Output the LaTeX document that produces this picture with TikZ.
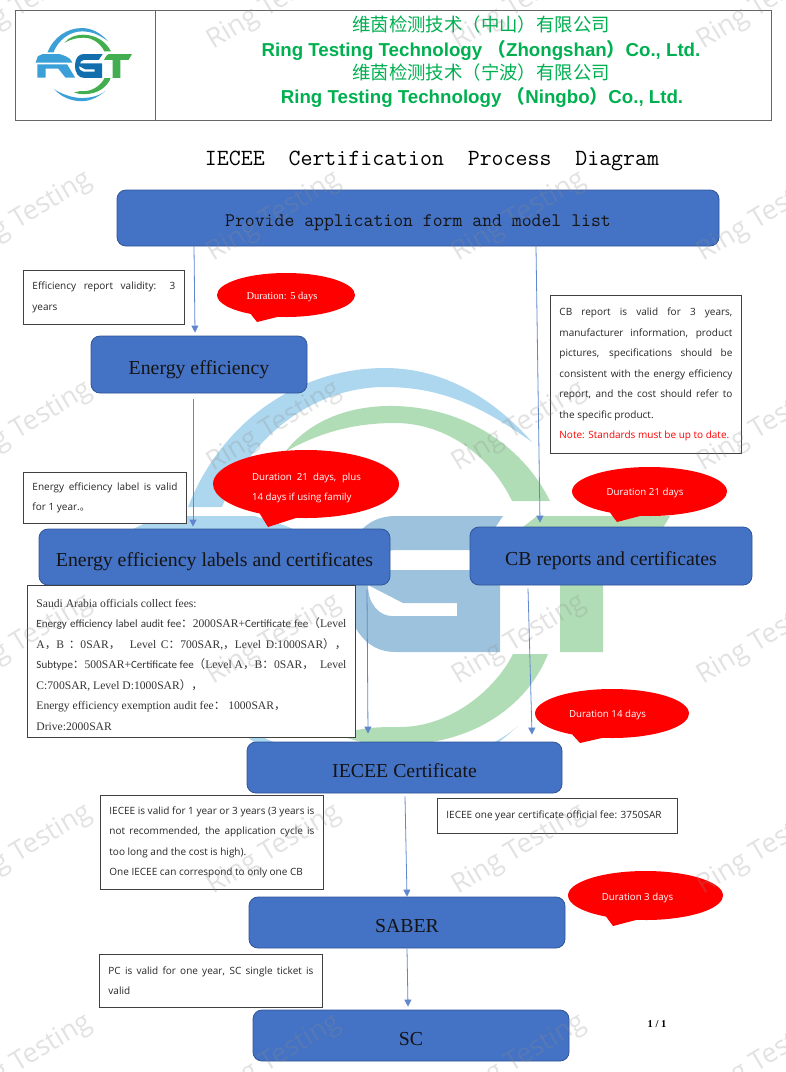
\documentclass[tikz,border=0pt]{standalone}
\usepackage{fontspec}
\usepackage{xcolor}
\usepackage{tikz}
\usetikzlibrary{arrows.meta,shapes.callouts}

\setmainfont{Liberation Serif}
\newfontfamily\notefont{Open Sans}
\newfontfamily\carl[Scale=.95]{Carlito}
\newfontfamily\cjk{Noto Sans CJK SC}
\newfontfamily\headfont{Liberation Sans}

\definecolor{blockblue}{HTML}{4472C4}
\definecolor{blockline}{HTML}{2F5597}
\definecolor{headgreen}{HTML}{00B050}
\definecolor{markblue}{HTML}{3BA0D8}
\definecolor{markgreen}{HTML}{43AE4F}
\definecolor{markdeep}{HTML}{136EAE}

\tikzset{
    blockbox/.style={draw=blockline, fill=blockblue, rounded corners=9pt, line width=.8pt,
        inner sep=0pt, text=black!92, text height=19pt, text depth=0pt, font=\fontsize{19.8}{24}\selectfont},
    notebox/.style={draw=black!75, fill=white, line width=.9pt, anchor=north west, align=justify,
        inner xsep=9pt, inner ysep=6pt, text=black!85, font=\notefont\fontsize{10}{20.5}\selectfont},
    bubble/.style={shape=ellipse callout, fill=red, callout pointer arc=24, inner sep=0pt},
    bubbletext/.style={text=white, align=left, inner sep=0pt, font=\notefont\fontsize{9.7}{20.5}\selectfont},
    flow/.style={draw=blockblue!85, line width=.8pt, -{Triangle[width=7pt,length=7pt]}},
    markword/.style={anchor=base west, rotate=31, text=black!45, opacity=.25,
        font=\notefont\fontsize{27}{27}\selectfont},
}

% three letters and the two rings
\newcommand{\logomark}{
    % rings
    \fill[markblue] (188,507) .. controls (222,420) and (300,368) .. (385,368)
        .. controls (445,368) and (495,400) .. (532,442)
        .. controls (480,405) and (440,387) .. (385,387)
        .. controls (315,387) and (250,435) .. (222,507) -- cycle;
    \fill[markblue] (518,726) .. controls (490,752) and (440,785) .. (385,785)
        .. controls (320,785) and (265,760) .. (225,715)
        .. controls (250,735) and (320,767) .. (385,767)
        .. controls (430,767) and (485,755) .. (518,726) -- cycle;
    \fill[markgreen] (285,452) .. controls (310,420) and (350,405) .. (395,406)
        .. controls (470,408) and (525,450) .. (550,501) -- (512,501)
        .. controls (490,455) and (445,423) .. (395,423)
        .. controls (355,423) and (320,432) .. (285,452) -- cycle;
    \fill[markgreen] (548,654) .. controls (530,700) and (480,745) .. (395,745)
        .. controls (375,745) and (355,742) .. (340,735)
        .. controls (360,727) and (380,727) .. (400,727)
        .. controls (450,727) and (495,690) .. (513,654) -- cycle;
    % R
    \fill[markblue] (133,529) -- (160,516) -- (255,516) .. controls (270,522) and (320,530) .. (330,565)
        -- (160,565) -- (120,565) -- cycle;
    \fill[markblue] (130,575) -- (300,575) -- (345,650) -- (290,650) -- (250,600) -- (178,600)
        -- (178,650) -- (130,650) -- cycle;
    % G
    \fill[markdeep, even odd rule] (345,580) .. controls (345,540) and (365,516) .. (395,516)
        -- (503,516) -- (480,550) -- (395,550) .. controls (385,550) and (375,560) .. (373,570)
        -- (500,570) -- (500,652) -- (395,652) .. controls (365,652) and (345,625) .. (345,580) -- cycle
        (368,585) -- (403,603) -- (457,603) -- (457,616) -- (392,616)
        .. controls (380,616) and (368,605) .. (368,585) -- cycle;
    % T
    \fill[markgreen] (523,527) -- (537,516) -- (670,516) -- (650,550) -- (603,550) -- (603,652)
        -- (560,652) -- (560,550) -- (510,550) -- cycle;
}

\begin{document}
\begin{tikzpicture}[x=1pt,y=-1pt]
    \useasboundingbox (0,0) rectangle (786,1072);
    \clip (0,0) rectangle (786,1072);

    \begin{scope}[opacity=.42]
        \logomark
    \end{scope}

    % letterhead
    \draw[black!60, line width=.8pt] (15,10) rectangle (771,120);
    \draw[black!60, line width=.8pt] (155,10) -- (155,120);
    \begin{scope}[shift={(14.5,-36.5)}, scale=.1754]
        \logomark
    \end{scope}
    \node[text=headgreen, font=\cjk\fontsize{18.4}{20}\selectfont] (cnone) at (481,24.5) {维茵检测技术（中山）有限公司};
    \node[text=headgreen, font=\headfont\bfseries\fontsize{18.7}{20}\selectfont] (enone) at (481,50) {Ring Testing Technology {\cjk （}Zhongshan{\cjk ）}Co., Ltd.};
    \node[text=headgreen, font=\cjk\fontsize{18.4}{20}\selectfont] (cntwo) at (481,72.5) {维茵检测技术（宁波）有限公司};
    \node[text=headgreen, font=\headfont\bfseries\fontsize{18.7}{20}\selectfont] (entwo) at (482,97) {Ring Testing Technology {\cjk （}Ningbo{\cjk ）}Co., Ltd.};

    \node[font=\ttfamily\fontsize{23.2}{24}\selectfont] (title) at (432,161) {IECEE\ \ Certification\ \ Process\ \ Diagram};

    % process blocks
    \node[blockbox, minimum width=602pt, minimum height=56pt, font=\ttfamily\fontsize{19.2}{20}\selectfont, text height=16pt] (apply) at (418,218) {Provide application form and model list};
    \node[blockbox, minimum width=216pt, minimum height=57pt] (effic) at (199,364.5) {Energy efficiency};
    \node[blockbox, minimum width=351pt, minimum height=56pt] (labels) at (214.5,557) {Energy efficiency labels and certificates};
    \node[blockbox, minimum width=282pt, minimum height=58pt] (cb) at (611,556) {CB reports and certificates};
    \node[blockbox, minimum width=315pt, minimum height=51pt] (iecee) at (404.5,767.5) {IECEE Certificate};
    \node[blockbox, minimum width=316pt, minimum height=51pt] (saber) at (407,922.5) {SABER};
    \node[blockbox, minimum width=316pt, minimum height=51pt] (scert) at (411,1035.5) {SC};

    \draw[flow] ([xshift=-224pt]apply.south) -- ([xshift=-4pt,yshift=3pt]effic.north);
    \draw[flow] ([xshift=-6pt,yshift=-6pt]effic.south) -- ([xshift=-21.5pt,yshift=2pt]labels.north);
    \draw[flow] ([xshift=118pt]apply.south) -- ([xshift=-71pt,yshift=4pt]cb.north);
    \draw[flow] ([xshift=152.5pt,yshift=-4pt]labels.south) -- ([xshift=-36.5pt,yshift=8pt]iecee.north);
    \draw[flow] ([xshift=-83pt,yshift=-3pt]cb.south) -- ([xshift=127.5pt,yshift=7pt]iecee.north);
    \draw[flow] ([xshift=.5pt,yshift=-3pt]iecee.south) -- (saber.north);
    \draw[flow] (saber.south) -- ([xshift=-3pt,yshift=3pt]scert.north);

    % notes beside the blocks
    \node[notebox, text width=143pt, minimum height=54pt] (effnote) at (23,270) {Efficiency report validity: 3\linebreak years};
    \node[notebox, text width=145pt, minimum height=51pt] (labnote) at (23,472) {Energy efficiency label is valid\linebreak for 1 year.{\cjk 。}};
    \node[notebox, text width=173pt, minimum height=158pt] (cbnote) at (550,295) {CB report is valid for 3 years,\linebreak manufacturer information, product\linebreak pictures, specifications should be\linebreak consistent with the energy efficiency\linebreak report, and the cost should refer to\linebreak the specific product.\newline\textcolor{red}{Note: Standards must be up to date.}};
    \node[notebox, text width=310pt, minimum height=152pt, inner ysep=4pt, text=black!80, font=\fontsize{11.6}{20.5}\selectfont] (feenote) at (27,585) {\strut Saudi Arabia officials collect fees:\newline
        {\carl Energy efficiency label audit fee}{\cjk ：}2000SAR+{\carl Certificate fee}{\cjk （}Level\linebreak
        A{\cjk ，}B {\cjk ：}0SAR{\cjk ，} \ Level C{\cjk ：}700SAR,{\cjk ，}Level D:1000SAR{\cjk ），}\linebreak
        {\carl Subtype}{\cjk ：}500SAR+{\carl Certificate fee}{\cjk （}Level A{\cjk ，}B{\cjk ：}0SAR{\cjk ，} \ Level\linebreak
        C:700SAR, Level D:1000SAR{\cjk ），}\newline
        Energy efficiency exemption audit fee{\cjk ：} 1000SAR{\cjk ，}\newline
        Drive:2000SAR};
    \node[notebox, text width=205pt, minimum height=94pt] (isonote) at (100,795) {IECEE is valid for 1 year or 3 years (3 years is\linebreak not recommended, the application cycle is\linebreak too long and the cost is high).\newline One IECEE can correspond to only one CB};
    \node[notebox, text width=222pt, minimum height=35pt] (paynote) at (437,798) {IECEE one year certificate official fee: 3750SAR};
    \node[notebox, text width=205pt, minimum height=53pt] (pcnote) at (99,954) {PC is valid for one year, SC single ticket is\linebreak valid};

    % durations
    \node[bubble, minimum width=138pt, minimum height=44pt, callout absolute pointer={(257,322)}] (dfive) at (286,295) {};
    \node[bubble, minimum width=186pt, minimum height=68pt, callout absolute pointer={(268,527)}] (dfamily) at (306,484) {};
    \node[bubble, minimum width=155pt, minimum height=49pt, callout absolute pointer={(617,522)}] (dcb) at (649.5,491.5) {};
    \node[bubble, minimum width=154pt, minimum height=49pt, callout absolute pointer={(580,743)}] (dcert) at (612,713.5) {};
    \node[bubble, minimum width=155pt, minimum height=49pt, callout absolute pointer={(613,926)}] (dsaber) at (645.5,895.5) {};

    \node[bubbletext, font=\fontsize{10.5}{20.5}\selectfont] (tfive) at ([xshift=-4pt,yshift=-2pt]dfive.center) {Duration: 5 days};
    \node[bubbletext, text width=109pt, align=justify] (tfamily) at ([xshift=.5pt,yshift=-4pt]dfamily.center) {Duration 21 days, plus\linebreak 14 days if using family};
    \node[bubbletext] (tcb) at ([xshift=-4.5pt,yshift=-1.5pt]dcb.center) {Duration 21 days};
    \node[bubbletext] (tcert) at ([xshift=-4.5pt,yshift=-1.5pt]dcert.center) {Duration 14 days};
    \node[bubbletext] (tsaber) at ([xshift=-8pt,yshift=-2pt]dsaber.center) {Duration 3 days};

    \node[font=\bfseries\fontsize{10.5}{12}\selectfont] (pageno) at (657,1024) {1 / 1};

    % repeated word over the whole sheet
    \foreach \wx in {-39,210,455,700}
        \foreach \wy in {51,263,473,686,896,1106}
            \node[markword] (word-\wx-\wy) at (\wx,\wy) {Ring Testing};
\end{tikzpicture}
\end{document}
